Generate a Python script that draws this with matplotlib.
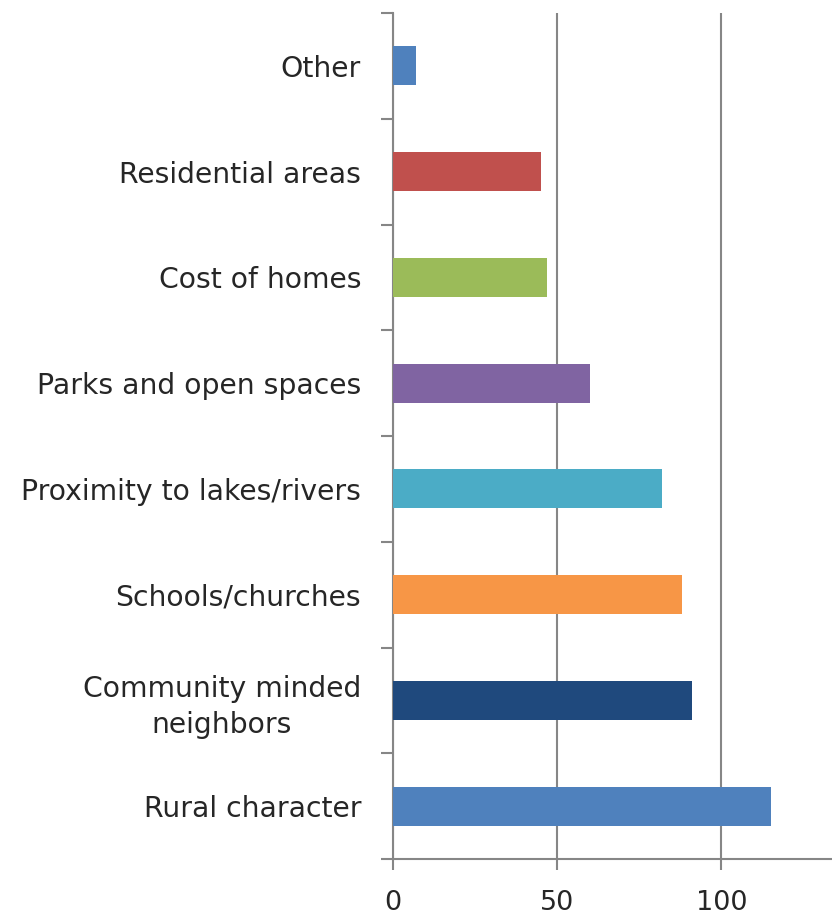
import matplotlib
matplotlib.use("Agg")
import matplotlib.pyplot as plt

categories = ["Rural character", "Community minded\nneighbors", "Schools/churches",
              "Proximity to lakes/rivers", "Parks and open spaces", "Cost of homes",
              "Residential areas", "Other"]
values = [115, 91, 88, 82, 60, 47, 45, 7]
colors = ["#4F81BD", "#1F497D", "#F79646", "#4BACC6", "#8064A2", "#9BBB59",
          "#C0504D", "#4F81BD"]
xticks = [0, 50, 100]

plt.rcParams['font.family'] = ['DejaVu Sans']

fig = plt.figure(figsize=(8.32, 9.18), dpi=100)
ax = fig.add_axes([393/832, (918-859)/918, 1 - 393/832, (859-13)/918])

pos = list(range(len(categories)))
ax.barh(pos, values, height=0.37, color=colors, zorder=3)

ax.set_xlim(0, 133.7)
ax.set_ylim(-0.5, len(categories) - 0.5)
ax.set_xticks(xticks)
ax.set_xticklabels([str(v) for v in xticks])
ax.set_yticks(pos)
ax.set_yticklabels(categories, multialignment='center', linespacing=1.35)

# y ticks sit between categories
ax.set_yticks([p - 0.5 for p in pos] + [len(categories) - 0.5], minor=True)
ax.tick_params(axis='y', which='major', length=0, pad=23, labelsize=20.3, labelcolor='#262626')
ax.tick_params(axis='y', which='minor', length=9, width=1.5, color='#868686')
ax.tick_params(axis='x', length=8, width=1.5, color='#868686', pad=14,
               labelsize=19.5, labelcolor='#262626')

ax.grid(axis='x', color='#868686', linewidth=1.5, zorder=0)
for s in ['top', 'right']:
    ax.spines[s].set_visible(False)
for s in ['left', 'bottom']:
    ax.spines[s].set_color('#868686')
    ax.spines[s].set_linewidth(1.5)

fig.savefig("out.png", dpi=100)
